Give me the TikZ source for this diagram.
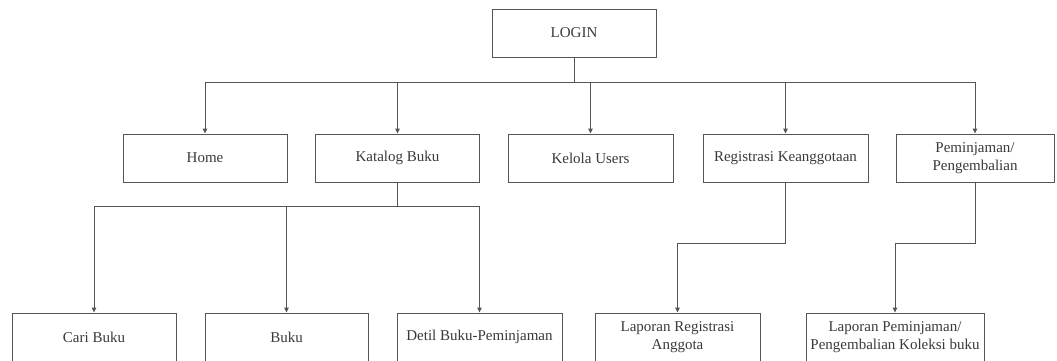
\documentclass[tikz,border=0pt]{standalone}
\usepackage{fontspec}
\setmainfont{Liberation Serif}
\usetikzlibrary{arrows.meta}
\definecolor{linegray}{HTML}{555555}
\definecolor{textgray}{HTML}{3A3A3A}
\begin{document}
\begin{tikzpicture}[x=1pt,y=-1pt,
  menubox/.style={draw=linegray,line width=0.9pt,minimum height=48pt,
    inner sep=0pt,text=textgray,align=center,
    font=\fontsize{15}{18.5}\selectfont},
  link/.style={draw=linegray,line width=0.9pt},
  arr/.style={link,-{Triangle[length=5pt,width=4.5pt]}}]
% page frame; the lowest row runs past the bottom edge
\clip (0,0) rectangle (1057,360);
\fill[white] (0,0) rectangle (1057,360);

% top
\node[menubox,minimum width=164pt] (login) at (574,33) {LOGIN};

% main menu
\node[menubox,minimum width=164pt] (home)     at (205,158)   {Home};
\node[menubox,minimum width=164pt] (katalog)  at (397.5,158) {Katalog Buku};
\node[menubox,minimum width=165pt] (kelola)   at (590.5,158) {Kelola Users};
\node[menubox,minimum width=165pt] (regis)    at (785.5,158) {Registrasi Keanggotaan};
\node[menubox,minimum width=158pt] (pinjam)   at (975,158)   {Peminjaman/\\Pengembalian};

% sub menus
\node[menubox,minimum width=164pt] (cari)     at (94,337)    {Cari Buku};
\node[menubox,minimum width=163pt] (buku)     at (286.5,337) {Buku};
\node[menubox,minimum width=165pt] (detil)    at (479.5,337) {Detil Buku-Peminjaman};
\node[menubox,minimum width=165pt] (lapreg)   at (677.5,337) {Laporan Registrasi\\Anggota};
\node[menubox,minimum width=178pt] (lappinjam) at (895,337)  {Laporan Peminjaman/\\Pengembalian Koleksi buku};

% login to main menu
\draw[link] (login.south) -- ++(0,25) coordinate (j1);
\foreach \n in {home,katalog,kelola,regis,pinjam}
  \draw[arr] (j1) -| (\n.north);

% katalog to its sub menus
\draw[link] (katalog.south) -- ++(0,24) coordinate (j2);
\foreach \n in {cari,buku,detil}
  \draw[arr] (j2) -| (\n.north);

% reports
\draw[arr] (regis.south) -- ++(0,61) -| (lapreg.north);
\draw[arr] (pinjam.south) -- ++(0,61) -| (lappinjam.north);
\end{tikzpicture}
\end{document}
